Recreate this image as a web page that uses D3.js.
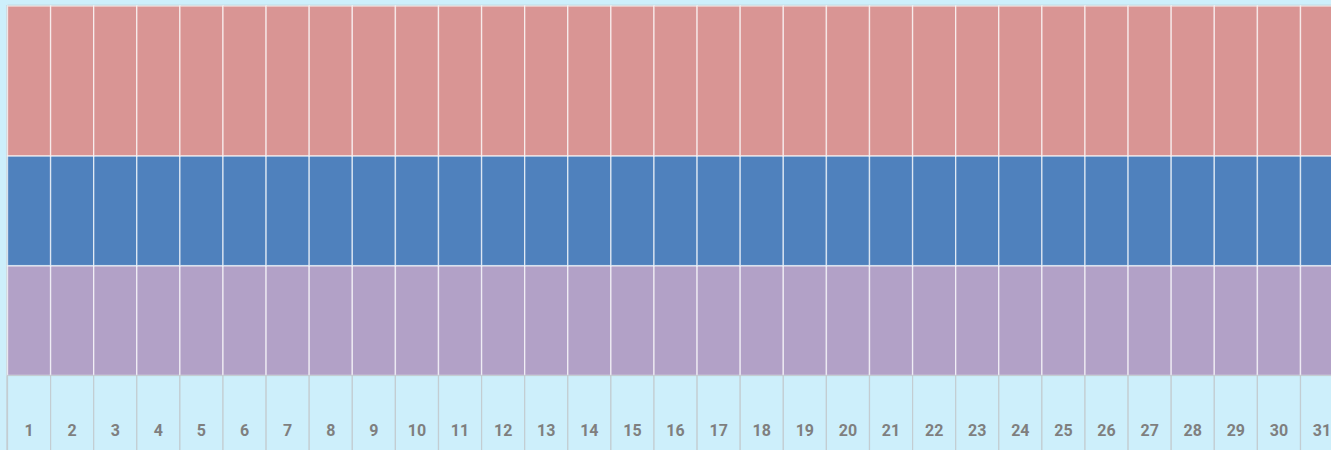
<!DOCTYPE html>
<html><head><meta charset="utf-8">
<script src="https://cdn.jsdelivr.net/npm/d3@7"></script>
<style>html,body{margin:0;padding:0;background:#cdeffb;overflow:hidden}</style>
</head><body>
<svg id="c" width="1331" height="450"></svg>
<script>
const days = d3.range(1, 32).map(String);
const seriesNames = ["purple", "blue", "red"];
const purpleValues = days.map(() => 11);
const blueValues = days.map(() => 11);
const redValues = days.map(() => 15);
const colors = ["#b2a1c7", "#4f81bd", "#d99594"];

(function () {
const svg = d3.select("#c");
const W = 1331, H = 450;
const left = 7.5, step = 43.1, plotTop = 6, base = 375.5;

const x = d3.scaleBand().domain(days).range([left, left + step * days.length]).padding(0);
const total = d3.max(days.map((d, i) => purpleValues[i] + blueValues[i] + redValues[i]));
const y = d3.scaleLinear().domain([0, total]).range([base, plotTop]);

const rows = days.map((d, i) => ({day: d, purple: purpleValues[i], blue: blueValues[i], red: redValues[i]}));
const stack = d3.stack().keys(seriesNames)(rows);

svg.append("rect").attr("x", 0).attr("y", 0).attr("width", W).attr("height", H).attr("fill", "#cdeffb");

svg.append("line").attr("x1", left).attr("x2", W).attr("y1", plotTop - 0.5).attr("y2", plotTop - 0.5)
  .attr("stroke", "#b9c6cc").attr("stroke-width", 1.5);
svg.append("line").attr("x1", left - 0.5).attr("x2", left - 0.5).attr("y1", plotTop - 1).attr("y2", H)
  .attr("stroke", "#c4d0d6").attr("stroke-width", 1.5);

stack.forEach((layer, li) => {
  svg.append("g").selectAll("rect").data(layer).join("rect")
    .attr("x", d => x(d.data.day))
    .attr("y", d => y(d[1]))
    .attr("width", x.bandwidth())
    .attr("height", d => y(d[0]) - y(d[1]))
    .attr("fill", colors[li])
    .attr("stroke", "rgba(255,255,255,0.65)")
    .attr("stroke-width", 1.4);
});

const lab = svg.append("g");
lab.selectAll("rect").data(days).join("rect")
  .attr("x", d => x(d))
  .attr("y", base)
  .attr("width", x.bandwidth())
  .attr("height", H - base + 10)
  .attr("fill", "#cdeffb")
  .attr("stroke", "#c3cdd2")
  .attr("stroke-width", 1.2);
lab.selectAll("text").data(days).join("text")
  .attr("x", d => x(d) + x.bandwidth() / 2)
  .attr("y", 435.5)
  .attr("text-anchor", "middle")
  .attr("font-family", "Roboto, 'DejaVu Sans', sans-serif")
  .attr("font-weight", "bold")
  .attr("font-size", 16)
  .attr("fill", "#7f7f7f")
  .text(d => d);
})();
</script>
</body></html>
